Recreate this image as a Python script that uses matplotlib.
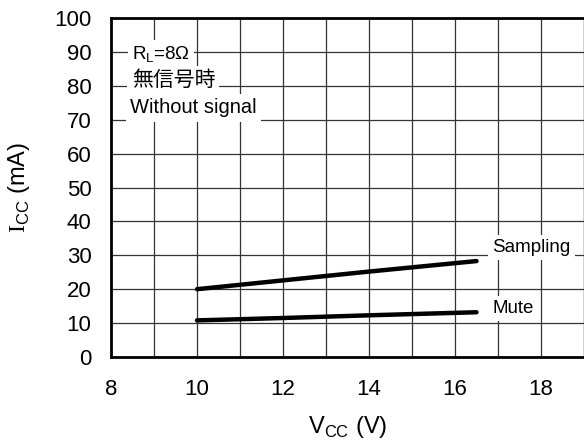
import matplotlib.pyplot as plt

plt.rcParams['font.family'] = ['Liberation Sans', 'Noto Sans CJK JP', 'DejaVu Sans']
plt.rcParams['mathtext.fontset'] = 'custom'
plt.rcParams['mathtext.rm'] = 'Liberation Serif'
plt.rcParams['mathtext.sf'] = 'Liberation Sans'

# data
vcc = [10, 12, 14, 16.5]
icc_sampling = [20.0, 22.6, 25.2, 28.3]
icc_mute = [10.8, 11.5, 12.3, 13.2]

xticks = [8, 10, 12, 14, 16, 18]
yticks = list(range(0, 101, 10))

fig = plt.figure(figsize=(5.84, 4.46), dpi=100)
ax = fig.add_axes([111 / 584, (446 - 357) / 446, (584 - 111) / 584, (357 - 18) / 446])

ax.plot(vcc, icc_sampling, color='black', lw=3.2, solid_capstyle='round', zorder=3)
ax.plot(vcc, icc_mute, color='black', lw=3.2, solid_capstyle='round', zorder=3)

ax.set_xlim(8, 19)
ax.set_ylim(0, 100)
ax.set_xticks(xticks)
ax.set_xticks(range(8, 20), minor=True)
ax.set_yticks(yticks)
ax.tick_params(axis='both', which='both', length=0, labelsize=16)
ax.tick_params(axis='x', pad=16)
ax.tick_params(axis='y', pad=14)
ax.grid(which='both', color='#333333', lw=0.9)
ax.set_axisbelow(True)

for s in ['left', 'bottom', 'top']:
    ax.spines[s].set_linewidth(2)
ax.spines['right'].set_linewidth(0.9)
ax.spines['right'].set_color('#555555')

ax.set_xlabel('V$_{\\mathsf{CC}}$ (V)', fontsize=17, labelpad=10)
ax.set_ylabel('$\\mathrm{I}_{\\mathsf{CC}}$ (mA)', fontsize=17, labelpad=16)

box = dict(facecolor='white', edgecolor='none', pad=3)
ax.text(8.48, 89.2, 'R$_{\\mathsf{L}}$=8Ω', fontsize=13.5, va='center', ha='left', bbox=box)
ax.text(8.48, 81.8, '無信号時', fontsize=15, va='center', ha='left', bbox=box)
ax.text(8.45, 73.5, 'Without signal', fontsize=14.5, va='center', ha='left', bbox=box)
ax.text(16.87, 32.2, 'Sampling', fontsize=13.5, va='center', ha='left', bbox=box)
ax.text(16.87, 14.2, 'Mute', fontsize=13.5, va='center', ha='left', bbox=box)

fig.savefig('out.png', dpi=100)
